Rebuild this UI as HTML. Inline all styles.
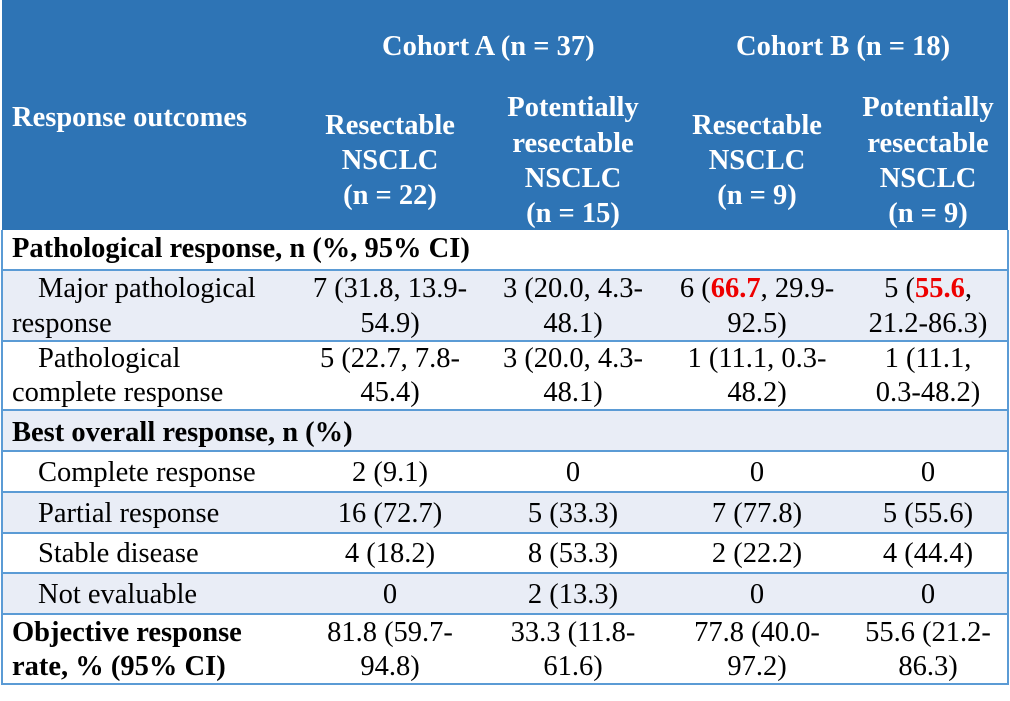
<!DOCTYPE html>
<html><head><meta charset="utf-8"><style>
body{margin:0;width:1010px;height:701px;background:#fff;position:relative;overflow:hidden;font-family:"Liberation Serif",serif;}
.hdr{position:absolute;left:2px;top:0;width:1006px;height:230px;background:#2e74b5;}
.sh{position:absolute;left:2px;width:1006px;background:#e9edf6;}
.hl{position:absolute;left:2px;width:1006px;height:2px;background:#5b9bd5;}
.vl{position:absolute;top:230px;width:2px;height:455px;background:#5b9bd5;}
.t{position:absolute;height:34px;line-height:34px;font-size:28.5px;color:#000;white-space:nowrap;}
.c{text-align:center;width:200px;}
.w{color:#fff;font-weight:bold;font-size:28.5px;}
.b{font-weight:bold;}
.r{color:#e00;font-weight:bold;}
</style></head><body>
<div class="hdr"></div>
<div class="sh" style="top:270px;height:71px"></div>
<div class="sh" style="top:410px;height:41px"></div>
<div class="sh" style="top:492px;height:41px"></div>
<div class="sh" style="top:573px;height:41px"></div>
<div class="hl" style="top:269px"></div>
<div class="hl" style="top:340px"></div>
<div class="hl" style="top:409px"></div>
<div class="hl" style="top:450px"></div>
<div class="hl" style="top:491px"></div>
<div class="hl" style="top:532px"></div>
<div class="hl" style="top:572px"></div>
<div class="hl" style="top:613px"></div>
<div class="hl" style="top:683px"></div>
<div class="vl" style="left:1px"></div>
<div class="vl" style="left:1007px"></div>

<div class="t c w" style="left:382px;top:30px">Cohort A (n = 37)</div>
<div class="t c w" style="left:736px;top:30px">Cohort B (n = 18)</div>
<div class="t w" style="left:12px;top:101px">Response outcomes</div>
<div class="t c w" style="left:290px;top:109px">Resectable</div>
<div class="t c w" style="left:290px;top:144px">NSCLC</div>
<div class="t c w" style="left:290px;top:179px">(n = 22)</div>
<div class="t c w" style="left:473px;top:91px">Potentially</div>
<div class="t c w" style="left:473px;top:127px">resectable</div>
<div class="t c w" style="left:473px;top:162px">NSCLC</div>
<div class="t c w" style="left:473px;top:197px">(n = 15)</div>
<div class="t c w" style="left:657px;top:109px">Resectable</div>
<div class="t c w" style="left:657px;top:144px">NSCLC</div>
<div class="t c w" style="left:657px;top:179px">(n = 9)</div>
<div class="t c w" style="left:828px;top:91px">Potentially</div>
<div class="t c w" style="left:828px;top:127px">resectable</div>
<div class="t c w" style="left:828px;top:162px">NSCLC</div>
<div class="t c w" style="left:828px;top:197px">(n = 9)</div>

<div class="t b" style="left:12px;top:232px">Pathological response, n (%, 95% CI)</div>
<div class="t" style="left:38px;top:272px">Major pathological</div>
<div class="t" style="left:12px;top:307px">response</div>
<div class="t c" style="left:290px;top:272px">7 (31.8, 13.9-</div>
<div class="t c" style="left:290px;top:307px">54.9)</div>
<div class="t c" style="left:473px;top:272px">3 (20.0, 4.3-</div>
<div class="t c" style="left:473px;top:307px">48.1)</div>
<div class="t c" style="left:657px;top:272px">6 (<span class="r">66.7</span>, 29.9-</div>
<div class="t c" style="left:657px;top:307px">92.5)</div>
<div class="t c" style="left:828px;top:272px">5 (<span class="r">55.6</span>,</div>
<div class="t c" style="left:828px;top:307px">21.2-86.3)</div>

<div class="t" style="left:38px;top:342px">Pathological</div>
<div class="t" style="left:12px;top:376px">complete response</div>
<div class="t c" style="left:290px;top:342px">5 (22.7, 7.8-</div>
<div class="t c" style="left:290px;top:376px">45.4)</div>
<div class="t c" style="left:473px;top:342px">3 (20.0, 4.3-</div>
<div class="t c" style="left:473px;top:376px">48.1)</div>
<div class="t c" style="left:657px;top:342px">1 (11.1, 0.3-</div>
<div class="t c" style="left:657px;top:376px">48.2)</div>
<div class="t c" style="left:828px;top:342px">1 (11.1,</div>
<div class="t c" style="left:828px;top:376px">0.3-48.2)</div>

<div class="t b" style="left:12px;top:416px">Best overall response, n (%)</div>

<div class="t" style="left:38px;top:456px">Complete response</div>
<div class="t c" style="left:290px;top:456px">2 (9.1)</div>
<div class="t c" style="left:473px;top:456px">0</div>
<div class="t c" style="left:657px;top:456px">0</div>
<div class="t c" style="left:828px;top:456px">0</div>

<div class="t" style="left:38px;top:497px">Partial response</div>
<div class="t c" style="left:290px;top:497px">16 (72.7)</div>
<div class="t c" style="left:473px;top:497px">5 (33.3)</div>
<div class="t c" style="left:657px;top:497px">7 (77.8)</div>
<div class="t c" style="left:828px;top:497px">5 (55.6)</div>

<div class="t" style="left:38px;top:537px">Stable disease</div>
<div class="t c" style="left:290px;top:537px">4 (18.2)</div>
<div class="t c" style="left:473px;top:537px">8 (53.3)</div>
<div class="t c" style="left:657px;top:537px">2 (22.2)</div>
<div class="t c" style="left:828px;top:537px">4 (44.4)</div>

<div class="t" style="left:38px;top:578px">Not evaluable</div>
<div class="t c" style="left:290px;top:578px">0</div>
<div class="t c" style="left:473px;top:578px">2 (13.3)</div>
<div class="t c" style="left:657px;top:578px">0</div>
<div class="t c" style="left:828px;top:578px">0</div>

<div class="t b" style="left:12px;top:616px">Objective response</div>
<div class="t b" style="left:12px;top:650px">rate, % (95% CI)</div>
<div class="t c" style="left:290px;top:616px">81.8 (59.7-</div>
<div class="t c" style="left:290px;top:650px">94.8)</div>
<div class="t c" style="left:473px;top:616px">33.3 (11.8-</div>
<div class="t c" style="left:473px;top:650px">61.6)</div>
<div class="t c" style="left:657px;top:616px">77.8 (40.0-</div>
<div class="t c" style="left:657px;top:650px">97.2)</div>
<div class="t c" style="left:828px;top:616px">55.6 (21.2-</div>
<div class="t c" style="left:828px;top:650px">86.3)</div>
</body></html>
